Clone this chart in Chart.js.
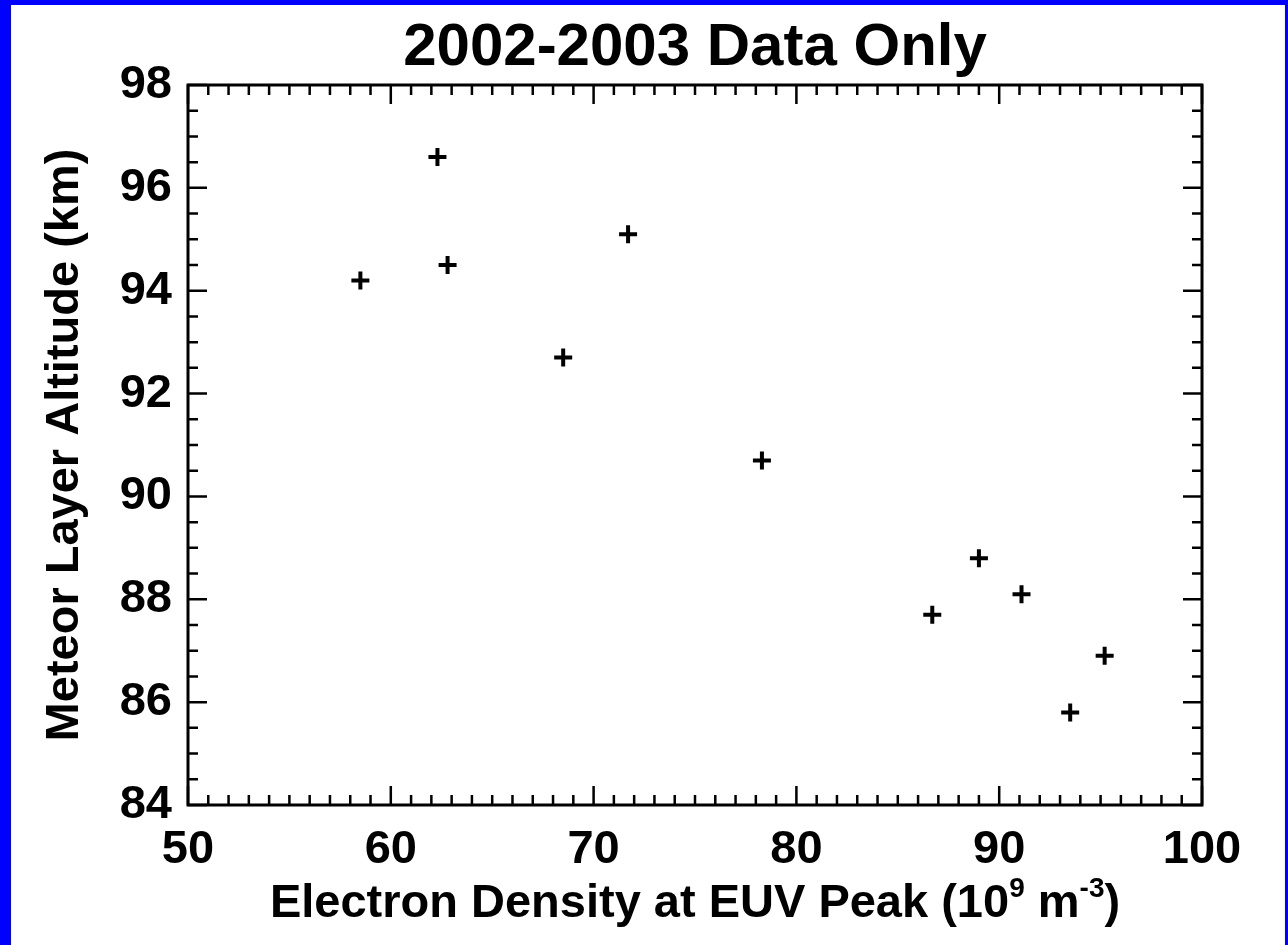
<!DOCTYPE html>
<html lang="en">
<head>
<meta charset="UTF-8">
<title>2002-2003 Data Only</title>
<script src="https://cdn.jsdelivr.net/npm/chart.js"></script>
<style>
  html, body { margin: 0; padding: 0; }
  body { background: #0000ff; width: 1288px; height: 945px; overflow: hidden; }
  #frame { position: absolute; left: 11px; top: 5px; width: 1274px; height: 940px; background: #fff; }
</style>
</head>
<body>
<div id="frame"><canvas id="chart"></canvas></div>
<script>
// electron density at EUV peak (10^9 m^-3) vs meteor layer altitude (km)
const density  = [58.5, 62.3, 62.8, 68.5, 71.7, 78.3, 86.7, 89.0, 91.1, 93.5, 95.2];
const altitude = [94.2, 96.6, 94.5, 92.7, 95.1, 90.7, 87.7, 88.8, 88.1, 85.8, 86.9];

const xTicks = [50, 60, 70, 80, 90, 100];
const yTicks = [84, 86, 88, 90, 92, 94, 96, 98];
const xMinor = 1;
const yMinor = 0.5;

const FONT = '"Liberation Sans", Arial, Helvetica, sans-serif';

// IDL style box: inward ticks on all four sides
const boxTicks = {
  id: 'boxTicks',
  afterDraw(chart) {
    const { ctx, chartArea: a, scales: { x, y } } = chart;
    ctx.save();
    ctx.strokeStyle = '#000';
    ctx.lineWidth = 3;
    ctx.strokeRect(a.left, a.top, a.right - a.left, a.bottom - a.top);
    ctx.lineWidth = 2.5;
    ctx.beginPath();
    const x0 = xTicks[0], x1 = xTicks[xTicks.length - 1];
    for (let i = 0; x0 + i * xMinor <= x1 + 1e-9; i++) {
      const v = x0 + i * xMinor;
      const px = x.getPixelForValue(v);
      const len = xTicks.includes(Math.round(v * 100) / 100) ? 19 : 10;
      ctx.moveTo(px, a.bottom); ctx.lineTo(px, a.bottom - len);
      ctx.moveTo(px, a.top); ctx.lineTo(px, a.top + len);
    }
    const y0 = yTicks[0], y1 = yTicks[yTicks.length - 1];
    for (let i = 0; y0 + i * yMinor <= y1 + 1e-9; i++) {
      const v = y0 + i * yMinor;
      const py = y.getPixelForValue(v);
      const len = yTicks.includes(Math.round(v * 100) / 100) ? 19 : 10;
      ctx.moveTo(a.left, py); ctx.lineTo(a.left + len, py);
      ctx.moveTo(a.right, py); ctx.lineTo(a.right - len, py);
    }
    ctx.stroke();

    // x axis title with superscripts
    const parts = [
      ['Electron Density at EUV Peak (10', false],
      ['9', true],
      [' m', false],
      ['-3', true],
      [')', false]
    ];
    const big = 'bold 47px ' + FONT, small = 'bold 28px ' + FONT;
    let total = 0;
    parts.forEach(p => { ctx.font = p[1] ? small : big; total += ctx.measureText(p[0]).width; });
    let cx = (a.left + a.right) / 2 - total / 2;
    const base = 912;
    ctx.fillStyle = '#000';
    ctx.textBaseline = 'alphabetic';
    ctx.textAlign = 'left';
    parts.forEach(p => {
      ctx.font = p[1] ? small : big;
      ctx.fillText(p[0], cx, p[1] ? base - 20 : base);
      cx += ctx.measureText(p[0]).width;
    });
    ctx.restore();
  }
};

new Chart(document.getElementById('chart'), {
  type: 'scatter',
  data: {
    datasets: [{
      data: density.map((d, i) => ({ x: d, y: altitude[i] })),
      pointStyle: 'cross',
      pointRadius: 9,
      pointBorderWidth: 4,
      borderColor: '#000',
      backgroundColor: '#000'
    }]
  },
  options: {
    responsive: true,
    maintainAspectRatio: false,
    animation: false,
    layout: { padding: { left: 0, right: 83, top: 0, bottom: 0 } },
    plugins: {
      legend: { display: false },
      tooltip: { enabled: false },
      title: {
        display: true,
        fullSize: false,
        text: '2002-2003 Data Only',
        color: '#000',
        font: { family: FONT, size: 60, weight: 'bold' },
        padding: { top: 7, bottom: 1 }
      }
    },
    scales: {
      x: {
        type: 'linear',
        min: xTicks[0],
        max: xTicks[xTicks.length - 1],
        grid: { display: false, drawTicks: false, tickLength: 0 },
        border: { display: false },
        ticks: {
          stepSize: 10,
          padding: 17,
          color: '#000',
          font: { family: FONT, size: 47, weight: 'bold' },
          maxRotation: 0,
          autoSkip: false
        },
        afterFit(scale) { scale.height = 140; }
      },
      y: {
        type: 'linear',
        min: yTicks[0],
        max: yTicks[yTicks.length - 1],
        grid: { display: false, drawTicks: false, tickLength: 0 },
        border: { display: false },
        ticks: {
          stepSize: 2,
          padding: 16,
          color: '#000',
          font: { family: FONT, size: 47, weight: 'bold' },
          autoSkip: false
        },
        title: {
          display: true,
          text: 'Meteor Layer Altitude (km)',
          color: '#000',
          font: { family: FONT, size: 47, weight: 'bold' },
          padding: { top: 26, bottom: 0 }
        },
        afterFit(scale) { scale.width = 177; }
      }
    }
  },
  plugins: [boxTicks]
});
</script>
</body>
</html>
